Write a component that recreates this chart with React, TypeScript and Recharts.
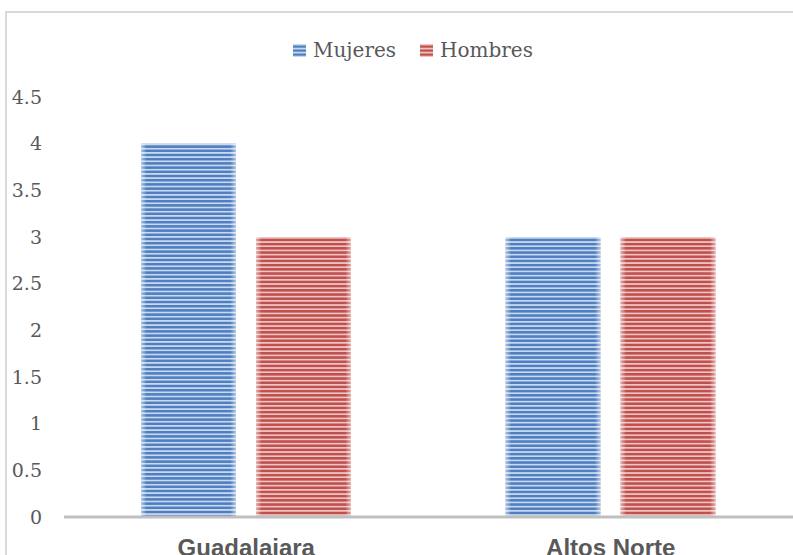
import React from "react";
import { BarChart, Bar, XAxis, YAxis } from "recharts";

const categories = ["Guadalajara", "Altos Norte"];
const mujeres = [4, 3];
const hombres = [3, 3];
const seriesNames = ["Mujeres", "Hombres"];
const yTicks = [0, 0.5, 1, 1.5, 2, 2.5, 3, 3.5, 4, 4.5];

const data = categories.map((c, i) => ({ name: c, Mujeres: mujeres[i], Hombres: hombres[i] }));

const palette: Record<string, { dark: string; light: string }> = {
  Mujeres: { dark: "#4f7fc0", light: "#c8d8ee" },
  Hombres: { dark: "#c0504d", light: "#edc4c3" },
};

const StripedBar = (key: string) => (props: any) => {
  const { x, y, width, height, index } = props;
  if (!height || height <= 0) return null;
  const c = palette[key];
  const pid = `pat-${key}-${index}`;
  const gid = `grad-${key}-${index}`;
  return (
    <g>
      <defs>
        <pattern id={pid} patternUnits="userSpaceOnUse" x={0} y={y} width={8} height={4.2}>
          <rect x={0} y={0} width={8} height={4.2} fill={c.light} shapeRendering="crispEdges" />
          <rect x={0} y={1.8} width={8} height={2.2} fill={c.dark} shapeRendering="crispEdges" />
        </pattern>
        <linearGradient id={gid} x1="0" y1="0" x2="1" y2="0">
          <stop offset="0" stopColor="#ffffff" stopOpacity={0.55} />
          <stop offset="0.06" stopColor="#ffffff" stopOpacity={0} />
          <stop offset="0.94" stopColor="#ffffff" stopOpacity={0} />
          <stop offset="1" stopColor="#ffffff" stopOpacity={0.55} />
        </linearGradient>
      </defs>
      <rect x={x} y={y} width={width} height={height} fill={`url(#${pid})`} />
      <rect x={x} y={y} width={width} height={height} fill={`url(#${gid})`} />
    </g>
  );
};

const LegendIcon = ({ k }: { k: string }) => {
  const c = palette[k];
  return (
    <svg width={13} height={13} style={{ display: "block" }}>
      <rect x={0} y={0} width={13} height={13} fill={c.light} />
      <rect x={0} y={1.5} width={13} height={2.2} fill={c.dark} />
      <rect x={0} y={5.5} width={13} height={2.2} fill={c.dark} />
      <rect x={0} y={9.5} width={13} height={2.2} fill={c.dark} />
    </svg>
  );
};

export default function App() {
  return (
    <div style={{ position: "fixed", left: 0, top: 0, width: 793, height: 555, overflow: "hidden", background: "#ffffff" }}>
      <div
        style={{
          position: "absolute",
          left: 5,
          top: 11,
          width: 820,
          height: 600,
          border: "2px solid #d9d9d9",
          boxSizing: "border-box",
        }}
      />
      <div
        style={{
          position: "absolute",
          left: 293,
          top: 37,
          display: "flex",
          alignItems: "center",
          fontFamily: "'DejaVu Serif', serif",
          fontSize: 20,
          color: "#595959",
          whiteSpace: "nowrap",
        }}
      >
        {seriesNames.map((n, i) => (
          <div key={n} style={{ display: "flex", alignItems: "center", marginLeft: i === 0 ? 0 : 24 }}>
            <LegendIcon k={n} />
            <span style={{ marginLeft: 7, lineHeight: "26px" }}>{n}</span>
          </div>
        ))}
      </div>
      <div style={{ position: "absolute", left: 0, top: 0 }}>
        <BarChart
          width={793}
          height={555}
          data={data}
          margin={{ top: 97, right: 0, left: 0, bottom: 0 }}
          barGap={20}
          barSize={95}
        >
          <XAxis
            dataKey="name"
            height={38}
            axisLine={{ stroke: "#bfbfbf", strokeWidth: 3 }}
            tickLine={false}
            tickSize={0}
            tickMargin={22}
            tick={{ fill: "#595959", fontSize: 24, fontWeight: "bold", fontFamily: "'Liberation Sans', Arial, sans-serif" }}
            interval={0}
          />
          <YAxis
            width={64}
            domain={[0, 4.5]}
            ticks={yTicks}
            axisLine={false}
            tickLine={false}
            tickMargin={16}
            tick={{ fill: "#595959", fontSize: 19, fontFamily: "'DejaVu Serif', serif" }}
          />
          <Bar dataKey="Mujeres" isAnimationActive={false} shape={StripedBar("Mujeres")} />
          <Bar dataKey="Hombres" isAnimationActive={false} shape={StripedBar("Hombres")} />
        </BarChart>
      </div>
    </div>
  );
}
